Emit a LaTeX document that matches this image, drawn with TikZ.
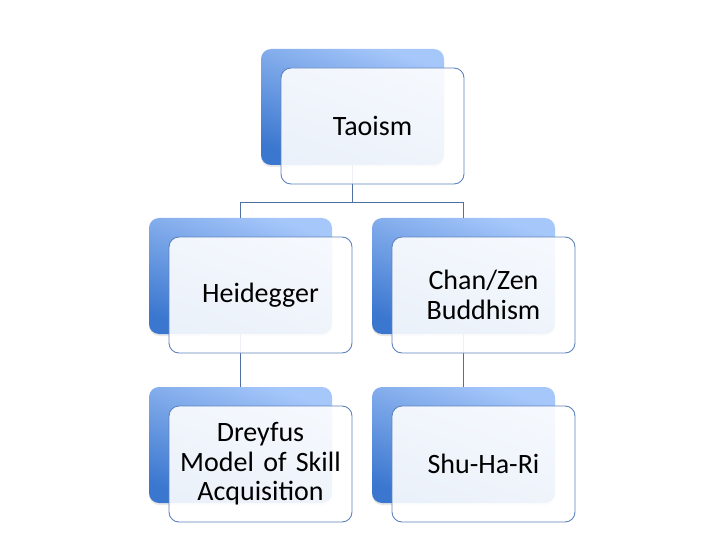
\documentclass[tikz,border=0pt]{standalone}
\usepackage{fontspec}
\setmainfont{Carlito}
\usetikzlibrary{shadows}
\definecolor{backtop}{HTML}{A6C7FA}
\definecolor{backbot}{HTML}{3B77CF}
\definecolor{frontborder}{HTML}{5F83BC}
\definecolor{linkcol}{HTML}{4F6FA3}
\tikzset{
  backbox/.style={rectangle, rounded corners=10pt, minimum width=183pt, minimum height=116pt,
    inner sep=0pt, top color=backtop, bottom color=backbot, shading angle=-20, draw=none,
    drop shadow={opacity=0.18, shadow xshift=0pt, shadow yshift=-2pt}},
  frontbox/.style={rectangle, rounded corners=10pt, minimum width=183pt, minimum height=116pt,
    inner sep=0pt, draw=frontborder, line width=0.9pt, fill=white, fill opacity=0.9, text opacity=1,
    text width=175pt, align=center, font=\fontsize{28}{29.5}\selectfont},
  link/.style={draw=linkcol, line width=0.9pt}
}
\begin{document}
\begin{tikzpicture}[x=1pt,y=-1pt]
\useasboundingbox (0,0) rectangle (720,540);
% back boxes
\node[backbox] (b1) at (352.5,107) {};
\node[backbox] (b2) at (240.5,276) {};
\node[backbox] (b3) at (463.5,276) {};
\node[backbox] (b4) at (240.5,445) {};
\node[backbox] (b5) at (463.5,445) {};
% connectors
\coordinate (j) at (352.5,202);
\draw[link] (b1.south) -- (j) -| (b2.north);
\draw[link] (j) -| (b3.north);
\draw[link] (b2.south) -- (b4.north);
\draw[link] (b3.south) -- (b5.north);
% front boxes
\node[frontbox] (f1) at (372.5,126) {Taoism};
\node[frontbox] (f2) at (260.5,295) {Heidegger};
\node[frontbox] (f3) at (483.5,295) {Chan/Zen\\Buddhism};
\node[frontbox] (f4) at (260.5,464) {Dreyfus\\Model of Skill\\Acquisition};
\node[frontbox] (f5) at (483.5,464) {Shu-Ha-Ri};
\end{tikzpicture}
\end{document}
